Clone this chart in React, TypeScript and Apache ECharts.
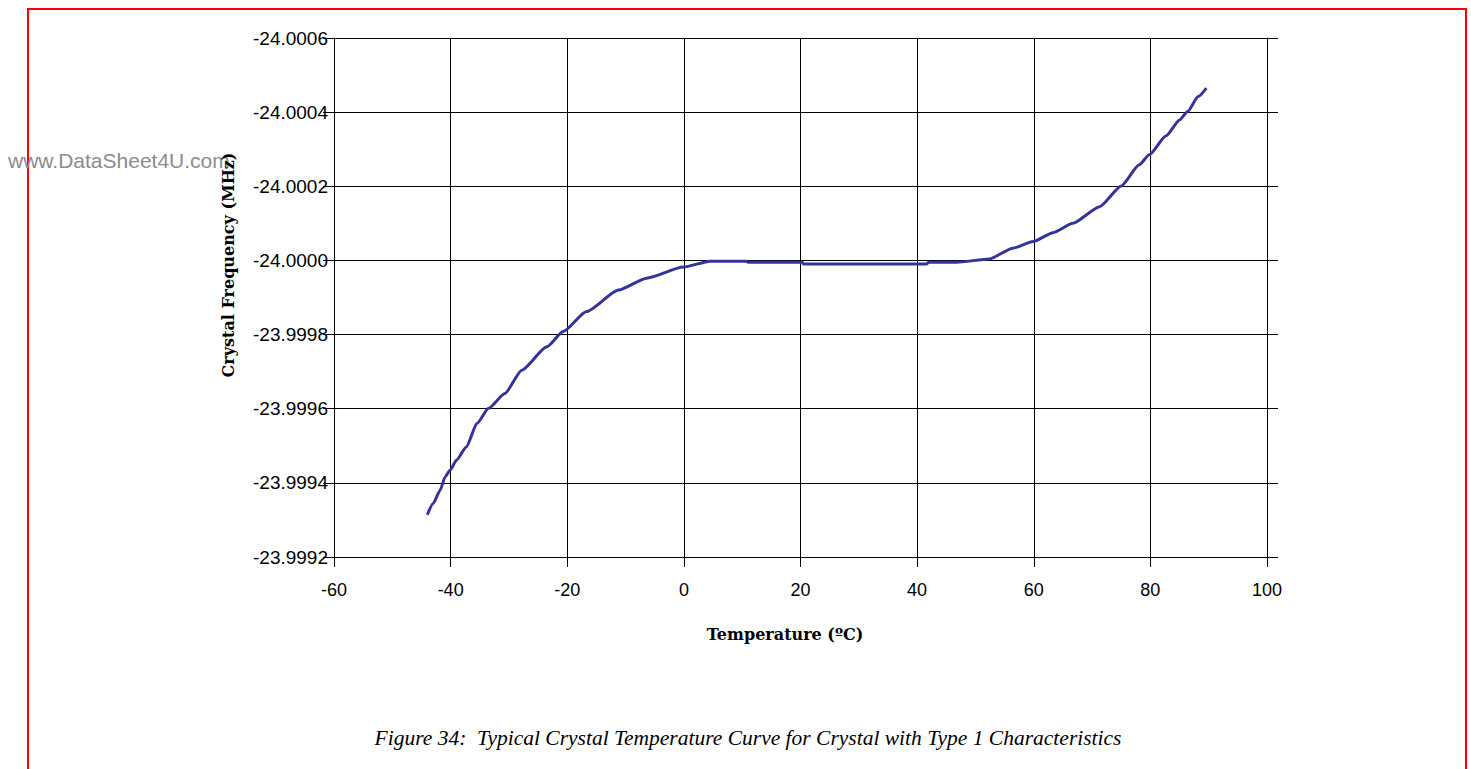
import React, { useEffect, useRef } from "react";
import * as echarts from "echarts";

// Temperature (°C) and crystal frequency (MHz)
const temperatures = [
  -44.0, -43.0, -41.8, -40.95, -40.1, -39.0, -37.3, -35.5, -33.5, -30.7, -27.8,
  -23.5, -20.7, -16.7, -11.2, -6.4, -0.1, 4.5, 10.6, 11.0, 20.3, 20.5, 41.6, 42.0,
  46.8, 52.4, 56.4, 59.9, 63.3, 66.7, 71.3, 75.0, 78.1, 79.8, 82.7, 85.0, 86.4, 88.2, 89.6,
];
const frequencies = [
  -23.999314, -23.999344, -23.99938, -23.999416, -23.999434, -23.999461, -23.999497,
  -23.99956, -23.999601, -23.999641, -23.999704, -23.999767, -23.999808,
  -23.999862, -23.99992, -23.999952, -23.999982, -23.999998, -23.999998, -23.999995,
  -23.999995, -23.9999905, -23.9999905, -23.999995, -23.999995, -24.000004, -24.000033,
  -24.000051, -24.000075, -24.0001, -24.000145, -24.000201, -24.000258, -24.000285,
  -24.000336, -24.000379, -24.000402, -24.000442, -24.000465,
];

const xTicks = { min: -60, max: 100, step: 20 };
const yTicks = { min: -24.0006, max: -23.9992, step: 0.0002 };

const yName = "Crystal Frequency (MHz)";
const xName = "Temperature (ºC)";
const caption = "Figure 34:  Typical Crystal Temperature Curve for Crystal with Type 1 Characteristics";
const watermark = "www.DataSheet4U.com";

export default function App() {
  const ref = useRef<HTMLDivElement>(null);

  useEffect(() => {
    if (!ref.current) return;
    const chart = echarts.init(ref.current, undefined, { renderer: "svg" });
    const data = temperatures.map((t, i) => [t, frequencies[i]]);
    const sans = "'Liberation Sans', Arial, sans-serif";
    const serif = "'Liberation Serif', 'Times New Roman', serif";
    const wideSerif = "'DejaVu Serif', serif";

    chart.setOption({
      animation: false,
      backgroundColor: "#ffffff",
      grid: { left: 334, right: 204, top: 38, bottom: 212, containLabel: false },
      xAxis: {
        type: "value",
        min: xTicks.min,
        max: xTicks.max,
        interval: xTicks.step,
        axisLine: { show: true, onZero: false, lineStyle: { color: "#000", width: 1 } },
        axisTick: { show: true, inside: false, length: 10, lineStyle: { color: "#000" } },
        splitLine: { show: true, lineStyle: { color: "#000", width: 1 } },
        axisLabel: { fontSize: 18, color: "#000", margin: 24, fontFamily: sans },
      },
      yAxis: [
        {
          type: "value",
          inverse: true,
          min: yTicks.min,
          max: yTicks.max,
          interval: yTicks.step,
          position: "left",
          axisLine: { show: true, onZero: false, lineStyle: { color: "#000", width: 1 } },
          axisTick: { show: true, inside: false, length: 11, lineStyle: { color: "#000" } },
          splitLine: { show: true, lineStyle: { color: "#000", width: 1 } },
          axisLabel: {
            fontSize: 19,
            color: "#000",
            margin: 6,
            fontFamily: sans,
            formatter: (v: number) => v.toFixed(4),
          },
        },
        {
          type: "value",
          inverse: true,
          min: yTicks.min,
          max: yTicks.max,
          interval: yTicks.step,
          position: "right",
          axisLine: { show: true, onZero: false, lineStyle: { color: "#000", width: 1 } },
          axisTick: { show: true, inside: false, length: 11, lineStyle: { color: "#000" } },
          splitLine: { show: false },
          axisLabel: { show: false },
        },
      ],
      series: [
        {
          type: "line",
          data,
          yAxisIndex: 0,
          showSymbol: false,
          smooth: 0.2,
          smoothMonotone: "x",
          lineStyle: { color: "#333399", width: 3 },
          z: 5,
        },
      ],
      graphic: [
        {
          type: "rect",
          shape: { x: 28, y: 9, width: 1438, height: 800 },
          style: { fill: "none", stroke: "#ff0000", lineWidth: 2 },
          silent: true,
          z: 0,
        },
        {
          type: "text",
          x: 8,
          y: 160,
          style: {
            text: watermark,
            fill: "#8c8c8c",
            font: `21px ${sans}`,
            textAlign: "left",
            textVerticalAlign: "middle",
          },
          z: 1,
        },
        {
          type: "text",
          x: 228,
          y: 265,
          rotation: Math.PI / 2,
          style: {
            text: yName,
            fill: "#000",
            font: `bold 16px ${wideSerif}`,
            textAlign: "center",
            textVerticalAlign: "middle",
          },
          z: 2,
        },
        {
          type: "text",
          x: 785,
          y: 634,
          style: {
            text: xName,
            fill: "#000",
            font: `bold 16px ${wideSerif}`,
            textAlign: "center",
            textVerticalAlign: "middle",
          },
          z: 2,
        },
        {
          type: "text",
          x: 748,
          y: 738,
          style: {
            text: caption,
            fill: "#000",
            font: `italic 21.5px ${serif}`,
            textAlign: "center",
            textVerticalAlign: "middle",
          },
          z: 2,
        },
      ],
    });

    return () => chart.dispose();
  }, []);

  return (
    <div
      ref={ref}
      style={{ position: "absolute", left: 0, top: 0, width: 1471, height: 769, background: "#fff" }}
    />
  );
}
